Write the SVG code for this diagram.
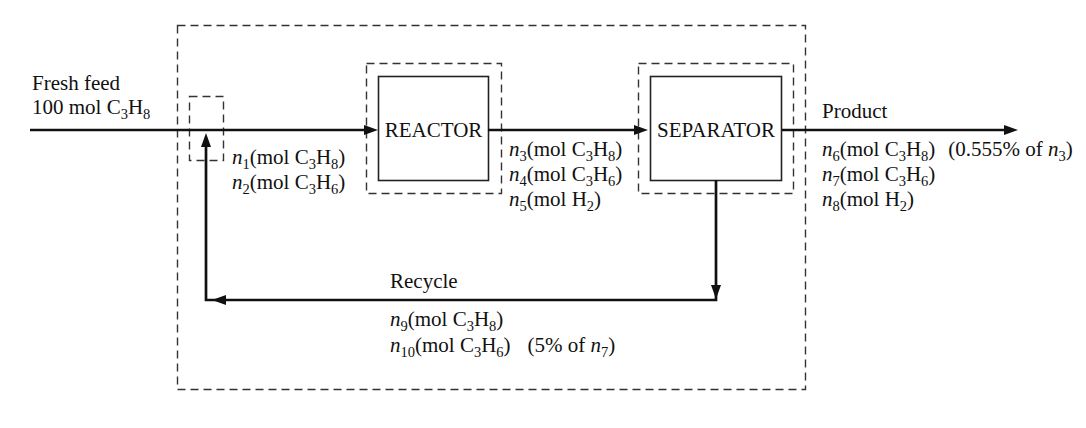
<svg xmlns="http://www.w3.org/2000/svg" width="1086" height="428" viewBox="0 0 1086 428">
<style>
.dash{fill:none;stroke:#333;stroke-width:1.4;stroke-dasharray:8 5}
.box{fill:#fff;stroke:#222;stroke-width:1.6}
.flow{fill:none;stroke:#111;stroke-width:2.7}
.ah{fill:#111}
text{font-family:"Liberation Serif","Times New Roman",serif;font-size:21px;fill:#111}
.i{font-style:italic}
.s{font-size:14.5px}
</style>
<rect width="1086" height="428" fill="#fff"/>
<rect class="dash" x="177.5" y="25.5" width="628" height="364"/>
<g id="mixer"><rect class="dash" x="189.5" y="96.5" width="34" height="64"/></g>
<g id="reactor">
<rect class="dash" x="366.5" y="63.5" width="135" height="130"/>
<rect class="box" x="378.5" y="76.5" width="110" height="104"/>
<text x="433.5" y="137" text-anchor="middle">REACTOR</text>
</g>
<g id="separator">
<rect class="dash" x="638.5" y="63.5" width="155" height="130"/>
<rect class="box" x="650.5" y="76.5" width="131" height="104"/>
<text x="716" y="137" text-anchor="middle">SEPARATOR</text>
</g>
<g id="connectors">
<line class="flow" x1="30" y1="130" x2="370" y2="130"/>
<polygon class="ah" points="378,130 364,125 364,135"/>
<line class="flow" x1="488" y1="130" x2="640" y2="130"/>
<polygon class="ah" points="648,130 634,125 634,135"/>
<line class="flow" x1="782" y1="130" x2="1008" y2="130"/>
<polygon class="ah" points="1018,130 1004,125 1004,135"/>
<polyline class="flow" points="716,180 716,300 206,300 206,142"/>
<polygon class="ah" points="716,299 711,285 721,285"/>
<polygon class="ah" points="212,300 226,295 226,305"/>
<polygon class="ah" points="206,133 201,147 211,147"/>
</g>
<g id="labels">
<text x="32" y="90">Fresh feed</text>
<text x="32" y="114">100 mol C<tspan class="s" dy="5">3</tspan><tspan dy="-5">H</tspan><tspan class="s" dy="5">8</tspan></text>
<text x="232" y="164"><tspan class="i">n</tspan><tspan class="s" dy="5">1</tspan><tspan dy="-5">(mol C</tspan><tspan class="s" dy="5">3</tspan><tspan dy="-5">H</tspan><tspan class="s" dy="5">8</tspan><tspan dy="-5">)</tspan></text>
<text x="232" y="189"><tspan class="i">n</tspan><tspan class="s" dy="5">2</tspan><tspan dy="-5">(mol C</tspan><tspan class="s" dy="5">3</tspan><tspan dy="-5">H</tspan><tspan class="s" dy="5">6</tspan><tspan dy="-5">)</tspan></text>
<text x="509" y="156"><tspan class="i">n</tspan><tspan class="s" dy="5">3</tspan><tspan dy="-5">(mol C</tspan><tspan class="s" dy="5">3</tspan><tspan dy="-5">H</tspan><tspan class="s" dy="5">8</tspan><tspan dy="-5">)</tspan></text>
<text x="509" y="181"><tspan class="i">n</tspan><tspan class="s" dy="5">4</tspan><tspan dy="-5">(mol C</tspan><tspan class="s" dy="5">3</tspan><tspan dy="-5">H</tspan><tspan class="s" dy="5">6</tspan><tspan dy="-5">)</tspan></text>
<text x="509" y="206"><tspan class="i">n</tspan><tspan class="s" dy="5">5</tspan><tspan dy="-5">(mol H</tspan><tspan class="s" dy="5">2</tspan><tspan dy="-5">)</tspan></text>
<text x="822" y="118">Product</text>
<text x="822" y="156"><tspan class="i">n</tspan><tspan class="s" dy="5">6</tspan><tspan dy="-5">(mol C</tspan><tspan class="s" dy="5">3</tspan><tspan dy="-5">H</tspan><tspan class="s" dy="5">8</tspan><tspan dy="-5">)</tspan><tspan dx="13">(0.555% of </tspan><tspan class="i">n</tspan><tspan class="s" dy="5">3</tspan><tspan dy="-5">)</tspan></text>
<text x="822" y="181"><tspan class="i">n</tspan><tspan class="s" dy="5">7</tspan><tspan dy="-5">(mol C</tspan><tspan class="s" dy="5">3</tspan><tspan dy="-5">H</tspan><tspan class="s" dy="5">6</tspan><tspan dy="-5">)</tspan></text>
<text x="822" y="206"><tspan class="i">n</tspan><tspan class="s" dy="5">8</tspan><tspan dy="-5">(mol H</tspan><tspan class="s" dy="5">2</tspan><tspan dy="-5">)</tspan></text>
<text x="390" y="288">Recycle</text>
<text x="390" y="326"><tspan class="i">n</tspan><tspan class="s" dy="5">9</tspan><tspan dy="-5">(mol C</tspan><tspan class="s" dy="5">3</tspan><tspan dy="-5">H</tspan><tspan class="s" dy="5">8</tspan><tspan dy="-5">)</tspan></text>
<text x="390" y="352"><tspan class="i">n</tspan><tspan class="s" dy="5">10</tspan><tspan dy="-5">(mol C</tspan><tspan class="s" dy="5">3</tspan><tspan dy="-5">H</tspan><tspan class="s" dy="5">6</tspan><tspan dy="-5">)</tspan><tspan dx="17">(5% of </tspan><tspan class="i">n</tspan><tspan class="s" dy="5">7</tspan><tspan dy="-5">)</tspan></text>
</g>
</svg>
